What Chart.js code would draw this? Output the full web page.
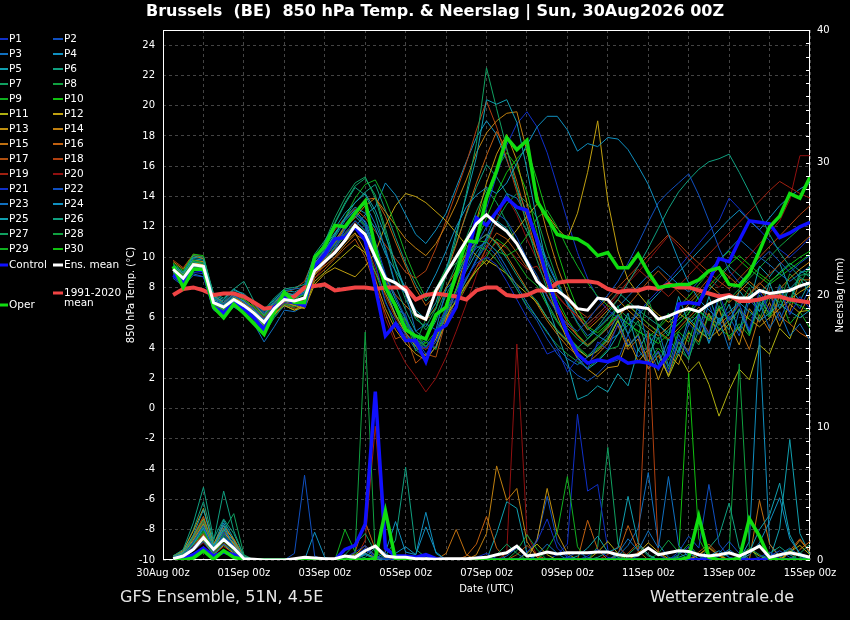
<!DOCTYPE html>
<html>
<head>
<meta charset="utf-8">
<title>Brussels 850 hPa Temp. &amp; Neerslag</title>
<script src="https://cdn.jsdelivr.net/npm/chart.js@4.4.1/dist/chart.umd.min.js"></script>
<style>
  html, body { margin: 0; padding: 0; background: #000; }
  #chart { display: block; }
</style>
</head>
<body>
<canvas id="chart" width="850" height="620"></canvas>
<script>
// GFS ensemble plume, Brussels - 850 hPa temperature (left axis) and 6h precipitation (right axis)

// Lead time in hours from 30Aug2026 00Z (one step every 6 h)
const leadHours = [6,12,18,24,30,36,42,48,54,60,66,72,78,84,90,96,102,108,114,120,126,132,138,144,150,156,162,168,174,180,186,192,
  198,204,210,216,222,228,234,240,246,252,258,264,270,276,282,288,294,300,306,312,318,324,330,336,342,348,354,360,366,372,378,384];

// x axis labels, one every 48 h
const dateLabels = ['30Aug 00z','01Sep 00z','03Sep 00z','05Sep 00z','07Sep 00z','09Sep 00z','11Sep 00z','13Sep 00z','15Sep 00z'];

const memberNames = ['P1','P2','P3','P4','P5','P6','P7','P8','P9','P10','P11','P12','P13','P14','P15',
  'P16','P17','P18','P19','P20','P21','P22','P23','P24','P25','P26','P27','P28','P29','P30'];
const memberColors = ['#1030c8','#1050c0','#1070c0','#1090c0','#10a0b0','#10a080','#10a060','#10a040','#10b020','#10c010',
  '#b0b010','#c0a010','#c09010','#c08010','#c07010','#c06010','#b05010','#b04010','#a02010','#901010',
  '#1030c8','#1050c0','#1070c0','#1090c0','#10a0b0','#10a080','#10a060','#10a040','#10b020','#10c010'];

// 850 hPa temperature (°C), perturbed members
const tempP1 = [8.8,8.3,9.0,8.9,6.8,6.4,7.0,6.6,6.0,5.4,6.4,7.0,6.9,7.1,9.3,10.0,10.8,11.6,12.4,11.8,9.6,
  7.0,5.8,4.9,4.2,4.0,5.1,6.6, 7.6,8.7,9.6,10.0,9.5,8.4,7.2,6.0, 4.9,3.6,3.9,2.4,3.3,2.6,4.4,3.9,
  5.6,4.2,4.8,2.9,3.8,2.4,4.6,3.5, 6.1,4.9,7.6,5.8,6.9,5.2,7.8,6.4, 8.1,6.2,7.4,6.6];
const tempP2 = [8.6,8.1,8.8,8.7,7.1,6.9,7.5,7.0,6.6,5.9,6.8,7.6,7.4,7.6,9.0,9.6,10.4,11.9,12.8,12.4,11.0,
  8.9,7.4,6.0,4.6,3.6,4.4,6.2, 7.6,9.2,10.8,12.0,12.9,12.4,11.3,9.9, 8.8,7.4,6.3,5.6,5.1,5.8,6.7,7.5,
  8.4,9.6,10.9,12.3,13.6,14.3,14.9,15.5, 14.1,12.4,10.6,9.1,8.3,9.0,9.8,10.4, 9.7,9.0,9.6,10.1];
const tempP3 = [9.0,8.5,9.2,9.1,7.3,7.0,7.6,7.3,6.9,6.3,7.0,7.8,7.9,8.0,9.8,10.5,11.3,12.4,13.1,13.5,12.2,
  10.6,8.2,7.6,5.1,5.6,5.2,7.9, 8.6,9.8,10.6,11.0,10.4,9.3,8.1,7.0, 6.0,5.1,4.0,3.3,2.9,3.4,4.2,4.9,
  6.2,4.9,6.8,4.1,5.3,2.8,4.9,3.6, 6.3,4.4,5.9,3.9,6.5,5.1,7.0,5.3, 6.4,4.8,5.6,4.5];
const tempP4 = [9.1,8.6,9.4,9.3,7.2,6.8,7.4,7.1,6.5,5.9,6.7,7.3,7.6,7.9,9.6,10.4,11.5,12.6,13.3,12.9,11.9,
  10.2,9.1,8.0,7.2,7.6,8.9,10.4, 12.0,13.3,14.1,14.6,14.2,14.9,16.2,17.4, 18.6,19.3,19.3,18.4,17.0,17.5,17.3,17.9,
  17.8,17.1,16.0,14.8,13.2,11.5,9.8,8.3, 7.2,6.5,5.9,6.4,7.0,6.4,5.8,6.3, 6.9,6.4,6.0,6.5];
const tempP5 = [9.4,8.9,9.9,9.8,7.4,7.1,7.8,7.6,6.9,6.2,7.1,7.7,7.5,7.8,9.9,10.8,11.9,12.9,13.6,14.2,13.1,
  11.4,9.6,7.8,6.5,5.9,7.0,9.1, 11.6,14.0,16.6,20.4,20.1,20.4,18.9,15.8, 12.4,9.3,6.8,4.8,3.4,2.6,3.1,3.8,
  4.9,6.3,3.8,5.1,2.9,4.6,3.7,6.0, 5.2,7.4,5.6,6.9,5.1,7.6,6.4,8.3, 6.6,8.0,7.1,8.4];
const tempP6 = [9.5,9.0,10.1,10.0,7.6,7.3,7.9,8.4,7.1,6.5,7.3,7.9,8.0,8.2,10.2,11.1,12.2,13.5,14.6,14.1,12.8,
  10.4,8.1,6.5,5.1,4.6,5.8,7.5, 8.8,10.0,11.0,11.5,10.9,9.9,8.8,7.8, 7.1,6.0,5.2,4.5,4.0,4.6,5.4,6.3,
  7.2,8.3,9.4,10.6,11.9,13.2,14.3,15.1, 15.8,16.3,16.5,16.8,15.6,14.3,12.9,11.5, 10.3,9.4,8.7,8.2];
const tempP7 = [9.2,8.7,9.7,9.6,7.0,6.5,7.1,6.7,6.2,5.5,6.5,7.4,7.2,7.6,9.7,11.0,12.6,13.9,14.9,15.3,13.9,
  11.6,9.0,7.2,5.9,5.4,6.6,8.8, 11.3,14.2,17.5,22.5,19.8,17.2,14.6,12.1, 9.8,7.9,6.4,5.3,4.6,4.1,4.7,5.4,
  6.8,4.9,5.8,3.6,4.7,2.6,4.4,3.2, 5.9,4.8,7.3,5.5,6.6,4.9,7.5,6.1, 8.0,6.9,8.8,8.9];
const tempP8 = [8.9,8.4,9.3,9.2,6.7,6.2,6.8,6.4,5.7,4.9,6.0,6.9,6.7,7.0,9.0,9.8,10.6,11.4,12.2,11.0,9.0,
  7.1,5.4,6.0,4.3,5.9,6.6,9.1, 9.6,10.2,10.7,10.5,9.8,8.9,7.9,6.8, 6.0,5.0,4.2,3.6,3.1,2.7,3.2,3.9,
  4.1,6.0,4.8,7.2,5.4,6.3,3.9,5.1, 4.2,6.2,5.5,7.6,6.8,8.0,5.9,7.5, 7.0,8.9,8.2,9.4];
const tempP9 = [9.3,8.8,9.8,9.6,6.9,6.5,7.3,6.8,6.4,5.8,6.6,7.1,7.0,7.4,9.4,10.3,11.4,12.6,13.9,14.8,15.1,
  13.8,12.1,10.2,8.6,7.3,7.9,9.2, 9.9,10.6,11.1,11.0,10.4,10.1,10.5,11.4, 12.6,13.1,12.0,10.6,9.4,8.3,7.4,6.8,
  6.3,6.9,6.2,5.6,5.0,4.5,5.1,5.8, 6.5,5.9,5.3,4.8,5.4,6.1,6.8,7.5, 7.6,7.1,6.8,6.4];
const tempP10 = [9.6,9.1,10.2,10.1,7.4,6.9,7.6,7.2,6.7,6.1,6.9,7.5,7.3,7.5,9.5,10.1,10.9,11.5,12.2,11.4,9.8,
  8.0,6.6,5.5,4.6,4.1,4.8,6.3, 7.9,9.5,11.0,12.6,14.2,15.6,16.5,17.2, 15.1,12.8,10.4,8.3,6.6,5.4,5.0,5.6,
  6.2,5.6,5.1,4.7,4.3,4.9,5.6,6.3, 7.4,8.1,8.8,9.5,10.1,9.5,8.9,8.4, 8.9,9.5,10.0,10.4];
const tempP11 = [9.0,8.5,9.4,9.3,7.0,6.6,7.3,6.9,6.2,5.4,6.2,6.8,6.5,6.7,8.4,9.0,9.6,10.2,10.8,10.3,9.0,
  7.6,6.2,5.0,4.1,3.5,4.6,6.1, 7.1,8.2,9.1,9.8,9.4,8.9,8.2,7.6, 7.0,6.0,5.1,4.4,3.9,3.4,3.8,4.5,
  5.8,4.1,4.9,2.9,3.8,2.1,3.6,2.4, 3.1,1.6,-0.5,1.2,2.6,1.9,4.2,3.6, 5.3,4.6,6.4,6.5];
const tempP12 = [9.2,8.7,9.6,9.5,7.2,6.8,7.3,7.0,6.4,5.8,6.6,7.1,6.8,6.6,8.2,8.9,9.3,9.0,8.7,9.4,10.3,
  12.1,13.4,14.2,14.0,13.6,13.0,12.4, 11.6,10.8,10.1,9.5,10.3,11.0,11.8,12.7, 13.5,12.8,11.9,11.2,12.9,15.6,19.0,13.7,
  10.4,8.5,7.6,6.8,6.2,5.7,6.3,5.8, 5.1,4.6,5.2,5.8,6.5,5.9,5.4,6.0, 6.6,7.2,7.7,8.1];
const tempP13 = [9.4,8.9,9.8,9.7,7.1,6.7,7.2,6.6,6.0,5.5,6.3,6.8,6.5,6.9,8.8,9.6,10.3,11.0,11.6,10.4,8.5,
  6.6,5.2,4.3,3.6,3.2,4.1,5.8, 7.9,10.1,12.4,14.9,16.8,18.1,16.4,13.6, 10.8,8.2,6.1,4.5,3.3,2.6,2.1,2.7,
  2.8,4.6,3.1,3.9,1.9,3.6,2.9,5.0, 4.4,6.3,4.8,5.6,4.2,6.6,5.7,7.0, 5.4,6.9,6.3,7.5];
const tempP14 = [9.7,9.2,10.1,9.9,7.5,7.0,7.6,7.4,6.8,6.2,7.0,7.6,7.5,7.8,9.6,10.4,11.1,12.0,12.6,13.4,13.9,
  13.0,12.1,11.2,10.6,10.1,10.9,12.1, 13.5,15.1,16.9,18.2,19.0,19.5,19.6,17.0, 14.2,11.6,9.4,7.6,6.2,5.2,5.8,6.5,
  7.2,6.5,5.9,5.3,4.8,5.4,6.1,6.9, 7.6,8.2,7.6,7.0,7.7,8.4,7.8,7.2, 7.9,8.6,9.2,9.7];
const tempP15 = [9.1,8.6,9.5,9.3,6.9,6.5,7.1,6.8,6.2,5.6,6.4,7.0,6.8,7.1,8.9,9.4,10.0,10.8,11.5,11.1,9.9,
  8.6,7.5,6.8,6.1,5.8,6.7,8.0, 9.1,10.2,11.0,11.5,11.0,10.1,9.0,7.9, 6.9,5.8,4.9,4.1,3.5,3.0,3.6,4.3,
  5.5,3.9,4.6,2.6,3.5,2.2,4.4,3.8, 6.1,5.0,6.6,4.5,5.4,3.9,6.2,5.1, 7.6,6.4,8.5,8.5];
const tempP16 = [9.3,8.8,9.6,9.5,7.2,6.8,7.4,7.0,6.5,5.9,6.7,7.3,7.1,7.2,9.1,9.9,10.9,11.9,13.0,13.8,13.9,
  12.7,11.0,9.4,7.9,6.8,7.5,8.9, 10.8,12.9,14.9,16.7,18.3,17.1,15.0,12.6, 10.3,8.4,6.9,5.7,4.8,4.1,4.7,5.4,
  6.1,6.8,6.2,5.6,5.1,4.6,5.3,6.0, 6.7,6.1,5.5,6.2,6.9,7.6,8.3,7.7, 6.1,5.6,5.0,4.6];
const tempP17 = [9.0,8.5,9.3,9.2,6.8,6.4,7.0,6.6,6.1,5.5,6.3,6.9,6.6,6.8,8.6,9.2,9.9,10.6,11.2,10.0,8.1,
  6.3,4.6,4.9,3.0,3.6,3.4,5.9, 6.8,8.0,9.3,10.6,11.6,11.2,10.3,9.3, 8.7,7.5,6.4,5.5,4.8,4.2,4.7,5.3,
  6.0,6.8,7.6,8.4,9.1,8.4,7.7,7.1, 7.8,8.6,9.3,8.7,8.1,7.5,8.2,8.9, 9.5,10.2,10.8,11.4];
const tempP18 = [9.8,9.3,10.2,10.0,7.4,7.0,7.5,7.2,6.6,6.0,6.8,7.6,7.9,8.4,10.0,10.9,11.8,12.6,13.2,12.6,11.7,
  10.8,9.9,9.0,8.6,9.1,10.6,12.4, 14.3,16.2,18.4,20.3,18.6,16.5,14.3,12.2, 10.3,8.9,7.9,7.1,6.5,6.0,6.6,7.3,
  8.0,8.7,9.4,10.1,10.8,11.5,10.9,10.2, 9.6,9.0,8.4,7.9,8.6,9.3,10.0,10.7, 11.4,12.1,12.8,13.4];
const tempP19 = [9.1,8.6,9.5,9.4,7.1,6.7,7.2,6.8,6.3,5.7,6.5,7.1,6.9,7.2,8.9,9.7,10.6,11.5,12.2,11.0,9.3,
  7.4,6.0,5.0,4.3,3.9,4.7,6.0, 7.1,8.2,9.3,10.2,11.0,10.6,9.9,9.2, 9.4,8.3,7.4,6.7,6.1,5.6,6.2,6.9,
  7.6,8.4,9.2,8.6,8.0,7.4,8.1,8.8, 9.5,10.2,10.9,11.6,12.3,13.0,13.7,14.4, 15.0,14.6,14.2,13.9];
const tempP20 = [8.9,8.4,9.2,9.1,6.9,6.5,7.1,6.7,6.1,5.3,6.2,6.9,6.7,6.9,8.6,9.5,10.5,11.6,12.3,11.3,8.7,
  5.9,4.3,3.0,2.1,1.1,2.0,3.4, 5.1,6.9,8.8,10.7,12.5,14.0,12.8,11.2, 9.8,8.6,7.5,6.7,6.0,5.4,6.0,6.7,
  7.5,8.3,9.0,9.8,10.6,11.4,10.7,9.9, 9.2,8.6,8.0,8.7,9.4,10.1,10.9,11.6, 12.4,13.8,16.7,16.7];
const tempP21 = [9.2,8.7,9.5,9.3,7.0,6.6,7.3,6.9,6.4,5.8,6.6,7.3,7.1,7.4,9.2,9.9,10.6,11.4,12.1,11.6,10.0,
  8.4,6.9,5.6,4.6,4.0,4.8,6.4, 7.9,9.6,11.4,13.2,15.4,17.4,18.8,19.6, 18.6,16.9,14.7,12.4,10.3,8.6,7.3,6.5,
  6.0,5.6,6.3,7.1,7.8,8.5,9.3,10.1, 10.9,11.7,12.4,13.9,13.2,12.5,11.8,11.1, 10.5,10.0,10.6,11.3];
const tempP22 = [9.0,8.5,9.3,9.2,6.9,6.5,7.0,6.6,6.0,5.1,6.0,6.8,6.7,7.1,9.1,10.0,11.0,12.1,12.9,12.2,10.5,
  8.7,6.6,6.2,4.1,4.5,4.0,6.6, 7.2,8.6,9.8,10.8,10.1,9.0,7.9,6.7, 5.8,4.6,3.6,2.8,2.2,1.8,2.3,3.0,
  3.2,4.9,3.4,4.1,2.5,4.2,3.5,5.6, 4.9,6.9,5.1,6.1,4.8,7.2,6.4,7.6, 5.8,7.4,6.6,8.0];
const tempP23 = [8.7,8.2,8.9,8.7,6.5,6.1,6.7,6.3,5.6,4.4,5.4,6.5,6.4,6.8,8.8,9.7,10.7,11.8,12.7,12.0,10.1,
  7.9,6.2,4.9,3.9,3.3,4.1,5.7, 7.2,8.5,9.9,11.3,13.0,14.2,13.9,12.7, 11.4,9.8,8.3,6.9,5.7,4.8,5.3,6.0,
  6.7,7.4,8.1,8.8,9.4,8.8,8.2,7.7, 8.4,9.1,9.8,10.5,11.2,10.6,10.0,9.5, 8.9,8.4,8.9,9.4];
const tempP24 = [9.3,8.8,9.7,9.5,7.3,6.9,7.6,7.2,6.7,6.1,6.9,7.6,7.4,7.7,9.5,10.2,10.9,11.6,12.0,12.8,13.3,
  14.9,14.1,12.8,11.5,10.9,11.8,12.9, 14.6,16.3,17.9,19.0,18.1,16.4,14.6,12.9, 11.2,9.6,8.2,7.0,6.0,5.3,4.8,4.4,
  4.9,5.5,6.2,6.9,7.6,8.3,9.0,9.7, 10.4,11.1,11.8,12.5,13.1,12.4,11.8,12.6, 13.4,14.0,14.5,14.9];
const tempP25 = [9.5,9.0,10.0,9.9,7.5,7.2,7.9,7.5,7.0,6.4,7.2,7.8,7.7,8.0,9.9,10.7,11.6,12.5,13.1,12.3,10.6,
  8.8,7.2,5.9,4.8,4.1,4.9,6.5, 7.8,9.1,10.3,11.2,12.4,11.9,10.9,9.6, 8.6,6.9,5.0,3.1,0.6,0.9,1.5,1.1,
  2.3,1.5,3.9,3.0,5.6,4.8,7.4,5.6, 6.2,4.3,6.0,5.2,7.8,6.9,9.4,8.7, 9.6,7.9,8.6,7.6];
const tempP26 = [9.2,8.7,9.6,9.5,7.1,6.8,7.4,7.1,6.6,6.0,6.8,7.5,7.4,7.7,9.6,10.5,11.5,12.6,13.6,14.3,14.8,
  13.1,11.3,9.6,8.2,7.1,7.9,9.3, 10.9,12.8,14.6,16.1,15.3,14.2,13.0,11.7, 10.4,9.1,8.0,7.0,6.2,5.6,6.2,6.9,
  7.7,7.1,6.5,6.0,5.5,5.0,5.6,6.3, 7.0,7.8,8.6,9.4,8.8,8.2,7.6,8.3, 9.0,9.6,9.1,8.7];
const tempP27 = [9.4,8.9,9.8,9.7,7.3,6.9,7.5,7.1,6.5,5.9,6.7,7.4,7.3,7.6,9.8,11.0,12.3,13.6,14.7,15.2,14.1,
  11.9,9.5,7.6,6.1,5.2,6.1,7.9, 9.5,11.3,13.0,14.5,13.6,12.3,10.9,9.5, 8.4,7.0,5.8,4.8,4.0,3.4,3.9,4.6,
  5.9,4.1,4.8,2.9,3.7,2.2,3.9,3.3, 5.2,4.6,6.8,5.9,6.9,5.0,7.1,6.3, 8.2,7.1,9.0,9.1];
const tempP28 = [9.1,8.6,9.4,9.3,6.9,6.3,6.9,6.5,5.8,5.0,6.1,7.0,6.8,7.1,9.1,10.0,11.0,12.1,13.0,12.1,10.2,
  8.1,6.6,5.4,4.5,3.9,4.6,6.0, 7.2,8.5,9.8,11.0,12.4,13.5,14.2,13.6, 12.6,10.4,8.5,6.9,5.6,4.6,5.2,5.9,
  6.6,6.0,5.5,5.0,4.6,5.2,5.9,6.5, 6.4,5.9,6.5,7.2,7.9,8.6,9.3,10.0, 10.7,11.3,11.9,12.4];
const tempP29 = [9.0,8.5,9.3,9.2,6.8,6.4,7.0,6.6,6.0,5.3,6.2,6.9,6.8,7.1,9.0,9.8,10.7,11.6,12.4,11.7,10.1,
  8.2,6.0,5.9,3.8,4.4,3.9,6.4, 7.0,8.1,9.1,10.0,11.2,10.7,9.7,8.7, 8.1,6.8,5.7,4.8,4.1,3.5,4.0,4.7,
  5.8,4.2,4.9,3.1,4.0,3.2,5.1,4.4, 6.5,5.8,6.7,4.6,5.6,4.8,6.9,6.0, 7.4,5.6,6.4,5.3];
const tempP30 = [9.3,8.8,9.7,9.6,7.1,6.6,7.2,6.8,6.3,5.6,6.5,7.2,7.0,7.3,9.3,10.1,11.0,11.9,12.7,12.1,10.4,
  8.4,6.9,5.7,4.8,4.3,5.1,6.7, 8.5,10.4,12.3,14.2,15.8,16.9,16.0,14.3, 11.6,9.0,7.2,5.9,4.9,4.2,4.8,5.5,
  6.2,5.6,5.1,4.7,5.3,6.0,6.7,7.4, 8.2,9.0,9.8,10.4,9.8,9.2,8.7,8.2, 8.7,9.2,9.7,10.2];

// 850 hPa temperature (°C), control, operational run, ensemble mean, 1991-2020 climate mean
const tempControl = [8.8,8.4,9.2,9.1,6.7,6.3,7.0,6.6,6.0,5.2,6.7,7.3,7.0,6.8,9.4,10.2,11.2,11.3,12.0,11.1,8.0,
  4.8,5.6,4.5,4.5,3.1,5.1,5.5, 6.7,9.7,12.6,12.1,13.0,13.9,13.3,13.1, 11.1,8.6,6.7,4.9,3.6,3.0,3.2,3.1,
  3.4,3.0,3.1,3.0,2.7,3.6,6.9,7.0, 6.9,8.4,9.9,9.7,11.1,12.4,12.3,12.2, 11.3,11.6,12.0,12.3];
const tempOper = [9.4,8.0,9.2,9.2,6.7,6.0,6.9,6.3,5.6,4.9,6.4,7.7,7.0,7.0,10.0,10.7,12.1,12.0,12.9,13.7,10.6,
  8.0,6.8,5.2,4.8,4.6,6.2,6.7, 8.9,11.1,11.0,13.9,15.7,17.9,17.1,17.7, 13.7,12.6,11.5,11.3,11.2,10.8,10.1,10.3,
  9.3,9.3,10.2,9.0,8.0,8.1,8.2,8.2, 8.5,9.1,9.3,8.2,8.1,8.9,10.4,12.0, 12.7,14.2,13.9,15.3];
const tempMean = [9.2,8.6,9.5,9.4,7.0,6.7,7.2,6.8,6.3,5.7,6.6,7.2,7.1,7.3,9.1,9.7,10.3,11.1,12.1,11.5,10.0,
  8.6,8.3,7.8,6.2,5.9,7.8,8.9, 10.0,11.1,12.2,12.8,12.2,11.7,10.9,9.7, 8.4,7.8,7.8,7.3,6.6,6.5,7.3,7.2,
  6.4,6.7,6.7,6.6,5.9,6.1,6.4,6.6, 6.4,6.9,7.2,7.4,7.3,7.3,7.8,7.6, 7.7,7.8,8.1,8.3];
const tempClimate = [7.5,7.9,8.0,7.8,7.5,7.6,7.6,7.4,7.0,6.6,6.7,7.2,7.4,8.0,8.1,8.2,7.8,7.9,8.0,8.0,7.9,
  8.0,8.0,8.0,7.2,7.5,7.6,7.5, 7.4,7.2,7.8,8.0,8.0,7.5,7.4,7.5, 7.8,7.8,8.3,8.4,8.4,8.4,8.3,7.9,
  7.7,7.8,7.8,8.0,7.9,8.2,8.0,8.0, 7.8,7.6,7.4,7.5,7.1,7.1,7.2,7.4, 7.4,7.2,7.1,7.0];

// 6-hourly precipitation (mm), perturbed members
const rainP1 = [0.1,0.3,1.0,1.8,0.6,2.1,0.8,0.1, 0,0,0,0,0,0,0,0, 0,0.2,0.6,1.1,0.3,0.1,0,0, 0,0,0,0,0,0,0.2,0.5,
  0.1,0,0,0.6,1.4,3.1,0.9,0.2, 0,0.3,0.8,0.2,0,0,0,0, 0,0,0.4,1.0,0.3,0,0,0, 0,0,0.2,0.6,0.1,0,0,0];
const rainP2 = [0.2,0.4,1.4,2.6,0.8,1.7,1.1,0.2, 0,0,0,0,0.5,6.4,0.3,0, 0,0,0.3,0.8,0.2,0,0.4,0.1, 0,0,0,0,0,0,0,0,
  0,0.3,0.9,0.4,0,0,0,0.2, 0.6,0.2,0,0,0,0,0.3,0.9, 0.4,0,0.6,1.8,0.9,5.7,1.2,0.2, 0,0,0,0.3,0.7,0.2,0,0];
const rainP3 = [0,0.2,0.7,1.4,0.4,1.2,0.6,0, 0,0,0,0,0,0,0,0, 0,0,0,0.4,1.1,0.5,0,0, 0,0,0,0,0,0,0,0,
  0,0,0,0,0.4,1.2,0.5,0, 0,0,0,0,0.5,1.6,0.7,2.2, 0.9,6.3,1.1,0.2,0,0,0.3,0.8, 0.2,0,0,0,0.4,0.9,0.3,0];
const rainP4 = [0.1,0.3,1.2,2.4,0.9,2.6,1.0,0.2, 0,0,0,0,0,0,2.1,0.2, 0,0.3,0.2,0.5,0.1,0.6,2.9,0.6, 0.4,2.5,0.6,0,0,0,0,0,
  0,0,0,0,0,0,0,0, 0,0,0,0,0,0,0,0, 0,0,0,0,0,0.3,0.7,0.2, 0,0.4,1.3,2.9,4.7,1.6,0.5,0.2];
const rainP5 = [0.2,0.6,1.9,3.8,1.1,2.3,1.4,0.2, 0,0,0,0,0,0,0,0, 0,0,0.2,0.4,0.1,0,0,0, 0,0,0,0,0,0,0,0,
  0,0,0,0,0,0,0,0, 0.3,0.9,1.8,0.6,0.9,4.8,1.3,0.4, 0,0,0.2,0.5,0.1,0,0,0, 0,0.6,2.3,3.4,5.8,1.9,0.4,0.1];
const rainP6 = [0.3,0.8,2.8,5.5,1.6,3.1,2.0,0.3, 0,0,0,0,0,0,0,0, 0,0,0,0.2,0.9,0.3,1.5,7.0, 0.8,0.2,0,0,0,0,0,0,
  0,0,0,0,0,0,0,0, 0,0,0.2,0.6,0.2,0,0,0, 0,0,0,0,0,0,0,0, 0,0,0,0.5,1.0,0.4,0,0];
const rainP7 = [0.2,0.5,1.7,3.0,1.0,2.2,3.5,0.4, 0,0,0,0,0,0,0,0, 0,0.4,1.2,2.0,0.6,0.1,0,0, 0,0,0,0,0,0,0,0,
  0.4,1.2,0.5,0,0,0,0,0, 0,0,0,0,0,0.4,1.1,0.3, 0,0,0,0,0,0,0,0, 0.3,0.9,0.4,0,0,0,0.5,1.2];
const rainP8 = [0.1,0.4,1.3,2.4,0.8,1.8,0.8,0.1, 0,0,0,0,0,0,0,0, 0,0,0.5,17.2,0.4,0,0,0, 0,0,0,0,0,0,0,0,
  0,0,0.7,1.9,0.8,0,0,0, 0,0,0,0,0,0,0,0, 0.5,1.5,0.6,0,0,0,0,0, 0,0,0,0,0.3,0.8,0.2,0];
const rainP9 = [0.1,0.3,0.9,1.6,0.5,1.4,0.7,0.1, 0,0,0,0,0,0,0,0, 0,2.3,0.6,0.1,0,0,0,0, 0,0,0,0,0,0,0,0,
  0,0,0,0,0,0.8,2.1,6.3, 1.0,0,0,0,0,0,0,0, 0,0,0.4,1.2,0.3,0,0,0, 0,0,0,0,0,0,0,0];
const rainP10 = [0.2,0.4,1.2,2.2,0.8,2.0,1.0,0.2, 0,0,0,0,0,0,0,0, 0,0,0,0,0,0,0,0, 0,0,0,0,0,0,0,0,
  0,0,0,0,0,0,0,0, 0,0,0,0,0,0,0,0, 0,0,0.3,14.1,1.6,0.2,0,0, 0,0,0,0,0,0,0,0];
const rainP11 = [0.1,0.2,0.8,1.5,0.4,1.1,0.5,0, 0,0,0,0,0,0,0,0, 0,0,0,0.5,0.2,0,0,0, 0,0,0,0,0,0,0,0,
  0,0,0,0.5,1.2,0.4,0,0, 0,0,0.6,1.4,0.5,0,0,0, 0,0,0,0,0,0,0,0, 0.2,0.8,0.3,0,0,0.6,1.1,0.4];
const rainP12 = [0.2,0.5,1.5,2.7,0.9,2.1,1.2,0.2, 0,0,0,0,0,0,0,0, 0,0,0,0,0,0,0,0, 0,0,0,0,0,0,0,0,
  0,0,0,0,0,0,0,0, 0,0,0,0,0,0,0.5,1.3, 0.6,0.1,0,0,0,0,0,0, 0,0,0,0,0,0,0,0];
const rainP13 = [0.3,0.7,2.2,3.9,1.2,2.6,1.5,0.2, 0,0,0,0,0,0,0,0, 0,0,0.4,1.1,0.3,0,0,0, 0,0,0,0,0,0,0,0,
  0,0,0,0,1.5,5.4,2.0,0.5, 0,0,0,0,0,0,0,0, 0,0,0,0,0.4,1.0,0.3,0, 0,0,0,0,0,0,0,0];
const rainP14 = [0.2,0.5,1.7,3.1,1.0,2.0,1.3,0.2, 0,0,0,0,0,0,0,0, 0,0,0,0,0,0,0,0, 0,0,0,0,0,0,0.4,2.0,
  7.1,4.5,5.4,1.4,0.2,0,0,0, 0,0,0,0,0,0,0,0, 0,0,0,0,0,0,0,0, 0,0,0,0,0,0.5,1.5,0.6];
const rainP15 = [0.1,0.3,1.0,1.9,0.6,1.5,0.7,0.1, 0,0,0,0,0,0,0,0, 0,0,0,0,0,0,0,0, 0,0,0,0.5,2.3,0.4,0,0,
  0,0,0,0,0,0,0,0, 0,0,0,0,0,0,0,0, 0,0,0,0,0.4,0.9,0.3,0, 0,0,4.5,1.2,0.2,0,0,0];
const rainP16 = [0.2,0.6,1.8,3.3,1.0,2.4,1.6,0.3, 0,0,0,0,0,0,0,0, 0,0,0.6,2.9,0.8,0.2,0,0, 0,0,0,0,0,0.3,1.2,3.3,
  0.9,0,0,0,0,0,0,0, 0,3.0,0.8,0,0.4,2.6,0.7,0, 0,0,0,0,0,0,0,0, 0,0.4,1.1,0.3,0,0,0.8,1.4];
const rainP17 = [0.1,0.4,1.1,2.0,0.7,1.6,0.9,0.1, 0,0,0,0,0,0,0,0, 0,0,0,0,0,0,0,0, 0,0,0,0,0,0,0,0,
  0,0,0.4,1.1,0.4,0,0,0, 0,0,0,0,0,0.5,1.3,0.4, 0,0,0,0,0.6,1.2,0.4,0, 0,0,0,0,0,0.7,1.6,0.6];
const rainP18 = [0.2,0.6,1.6,2.9,1.0,2.3,1.2,0.2, 0,0,0,0,0,0,0,0, 0,0,0,0,0,0,0,0, 0,0,0,0,0,0,0,0,
  0,0,0,0,0,0,0,0, 0,0,0,0,0,0,0.6,17.3, 0.5,0,0,0,0,0,0,0, 0,0,0,0,0,0,0,0];
const rainP19 = [0.1,0.3,0.9,1.7,0.5,1.3,0.6,0.1, 0,0,0,0,0,0,0,0, 0,0,0,1.5,10.1,0.4,0,0, 0,0,0,0,0,0,0,0,
  0,0,0,0,0,0,0,0, 0,0,0,0.4,1.0,0.3,0,0, 0,0,0,0,0,0,0,0, 0,0,0,0,0,0,0,0];
const rainP20 = [0.1,0.2,0.7,1.3,0.4,1.0,0.5,0, 0,0,0,0,0,0,0,0, 0,0,0,0,0,0,0,0, 0,0,0,0,0,0,0,0,
  0,0.5,16.3,2.0,0.3,0,0,0, 0,0,0,0,0,0,0,0, 0,0,0,0,0,0,0,0, 0,0,0,0,0,0,0,0];
const rainP21 = [0.2,0.4,1.3,2.3,0.8,1.9,1.1,0.1, 0,0,0,0,0,0,0,0, 0,0,0.3,0.9,0.3,0,0,0, 0,0,0,0,0,0,0,0,
  0,0,0,0,0,0,0.4,1.2, 11.0,5.2,5.7,0.8,0,0,0,0, 0,0,0,0,0,0,0,0, 0,0,0,0,0,0,0,0];
const rainP22 = [0.1,0.3,1.0,1.8,0.6,1.5,0.8,0.1, 0,0,0,0,0,0,0,0, 0,0,0,0,0,0,0,0, 0,0,0,0,0,0,0,0,
  0,0,0,0,1.6,4.8,1.4,0.3, 0,0,0,0,0,0,0,0, 0,0,0,0,0,0,0.5,1.4, 0.5,0,0,0,0,0,0,0];
const rainP23 = [0,0.2,0.8,1.6,0.5,1.2,0.6,0, 0,0,0,0,0,0,0,0, 0,0,0,0,0,0,0,0, 0,0,0,0,0,0,0,0,
  0,0,0,0,0,0,0,0, 0,0,0,0,0.3,1.1,2.4,6.6, 1.2,0.2,0,0,0,0,0,0, 0,0,0,0,0,0,0,0];
const rainP24 = [0.2,0.5,1.4,2.6,0.9,2.8,1.4,0.2, 0,0,0,0,0,0,0,0, 0,0,0,0,0,0,0.5,1.0, 0.4,3.6,0.5,0,0,0,0,0,
  0,0,0,0,0,0,0,0, 0,0,0,0,0,0,0,0, 0,0,0,0,0,0,0,0, 0,1.4,16.9,1.2,0.3,0,0,0];
const rainP25 = [0.2,0.6,1.8,3.1,1.1,3.0,1.6,0.2, 0,0,0,0,0,0,0,0, 0,0,0,0,0,0,0,0, 0,0,0,0,0,0,0,0,
  2.0,4.4,3.9,0.5,0,0,0,0, 0,0,0,0,0,0,0,0, 0,0,0,0,0,0,0,0, 0,0,0,0,2.4,9.1,2.0,0.4];
const rainP26 = [0.3,0.7,2.3,4.4,1.4,5.2,2.2,0.3, 0,0,0,0,0,0,0,0, 0,0,0,0,0,0,0,0, 0,0,0,0,0,0,0,0,
  0,0,0,0,0,0,0,0, 0,0,0,0,0,0,0,0, 0,0,0,0,0,0.9,1.8,4.3, 0.9,0,0,0,0,0,0,0];
const rainP27 = [0.2,0.5,1.5,2.8,0.9,2.2,1.2,0.2, 0,0,0,0,0,0,0,0, 0,0,0,0,0,0,0,0, 0,0,0,0,0,0,0,0,
  0,0,0,0,0,0,0,0, 0,0,1.0,8.5,1.2,0,0,0, 0,0,0,0,0,0,0,0, 0,0,0,0,0,0,0,0];
const rainP28 = [0.1,0.4,1.2,2.1,0.7,1.7,0.9,0.1, 0,0,0,0,0,0,0,0, 0,0,0,0,0,0,0,0, 0,0,0,0,0,0,0,0,
  0,0,0,0,0,0,0,0, 0,0,0,0,0,0,0,0, 0,0,0,0,0,0,0,0.6, 14.8,1.0,0,0,0,0,0,0];
const rainP29 = [0.1,0.3,1.0,1.9,0.6,1.6,0.8,0.1, 0,0,0,0,0,0,0,0, 0,0,0,0,0,0,0,0, 0,0,0,0,0,0,0,0,
  0,0,0,0,0,0,0,0, 0,0,0,0,0,0,0,0, 0,0,0,0,0,0,0,0, 0,0,0,0,0,0,0,0];
const rainP30 = [0.2,0.4,1.3,2.5,0.8,1.9,1.0,0.2, 0,0,0,0,0,0,0,0, 0,0,0,0,0,0,0,0, 0,0,0,0,0,0,0,0,
  0,0,0,0,0,0,0,0, 0,0,0,0,0,0,0,0, 0,0,0,0,0,0,0,0, 0,0,0,0,0,0,0,0];

// 6-hourly precipitation (mm), control, operational run, ensemble mean
const rainControl = [0,0.1,0.4,0.9,0.3,0.6,0.4,0, 0,0,0,0,0,0,0,0, 0,0.8,1.1,2.7,12.7,0.9,0.3,0.3, 0.2,0.4,0.1,0,0,0,0,0,
  0,0,0,0,0,0,0,0, 0,0,0,0,0,0,0,0, 0,0,0,0,0,0,0,0, 0,0,0,0,0,0,0,0];
const rainOper = [0,0,0.15,0.7,0.05,0.7,0.2,0.05, 0,0,0,0,0,0,0,0, 0,0,0,0,0.1,3.7,0,0, 0,0,0,0,0,0,0,0,
  0,0,0,0,0,0,0,0, 0,0,0,0,0,0,0,0, 0,0,0,0.2,3.3,0.2,0,0, 0.1,3.1,1.8,0.1,0,0,0,0];
const rainMean = [0.1,0.3,0.8,1.7,0.8,1.55,0.9,0.1, 0.05,0,0,0,0.1,0.2,0.15,0.1, 0.1,0.3,0.2,0.7,1.05,0.3,0.2,0.2,
  0.1,0.1,0.05,0.1,0.1,0.1,0.15,0.2, 0.4,0.55,1.05,0.3,0.4,0.6,0.45,0.55, 0.55,0.55,0.6,0.6,0.4,0.3,0.4,0.9,
  0.4,0.55,0.7,0.65,0.4,0.3,0.4,0.55, 0.3,0.65,1.05,0.2,0.4,0.55,0.4,0.2];

const memberTemps = [tempP1,tempP2,tempP3,tempP4,tempP5,tempP6,tempP7,tempP8,tempP9,tempP10,
  tempP11,tempP12,tempP13,tempP14,tempP15,tempP16,tempP17,tempP18,tempP19,tempP20,
  tempP21,tempP22,tempP23,tempP24,tempP25,tempP26,tempP27,tempP28,tempP29,tempP30];
const memberRains = [rainP1,rainP2,rainP3,rainP4,rainP5,rainP6,rainP7,rainP8,rainP9,rainP10,
  rainP11,rainP12,rainP13,rainP14,rainP15,rainP16,rainP17,rainP18,rainP19,rainP20,
  rainP21,rainP22,rainP23,rainP24,rainP25,rainP26,rainP27,rainP28,rainP29,rainP30];

const chartTitle = 'Brussels  (BE)  850 hPa Temp. & Neerslag | Sun, 30Aug2026 00Z';

const COLOR_CONTROL = '#1010ff';
const COLOR_OPER = '#10dd10';
const COLOR_MEAN = '#ffffff';
const COLOR_CLIMATE = '#f04444';
const FONT = '"DejaVu Sans", sans-serif';

// pair the 6-hourly values with their lead time
function series(values) {
  return values.map((v, i) => ({ x: leadHours[i], y: v }));
}

function lineSet(label, values, color, width, axis, order) {
  return {
    label: label,
    data: series(values),
    borderColor: color,
    borderWidth: width,
    yAxisID: axis,
    order: order,
    pointRadius: 0,
    tension: 0,
    fill: false
  };
}

const datasets = [];
memberTemps.forEach((values, i) => {
  datasets.push(lineSet(memberNames[i], values, memberColors[i], 1, 'y', 6));
});
memberRains.forEach((values, i) => {
  datasets.push(lineSet(memberNames[i] + ' rain', values, memberColors[i], 1, 'y2', 5));
});
datasets.push(lineSet('1991-2020 mean', tempClimate, COLOR_CLIMATE, 4, 'y', 4));
datasets.push(lineSet('Control', tempControl, COLOR_CONTROL, 3.5, 'y', 3));
datasets.push(lineSet('Control rain', rainControl, COLOR_CONTROL, 3.5, 'y2', 3));
datasets.push(lineSet('Oper', tempOper, COLOR_OPER, 3.5, 'y', 2));
datasets.push(lineSet('Oper rain', rainOper, COLOR_OPER, 3.5, 'y2', 2));
datasets.push(lineSet('Ens. mean', tempMean, COLOR_MEAN, 3, 'y', 1));
datasets.push(lineSet('Ens. mean rain', rainMean, COLOR_MEAN, 3, 'y2', 1));

// frame, titles, footer texts and the two-column legend on the left
const decorPlugin = {
  id: 'decor',
  beforeDraw(chart) {
    const ctx = chart.ctx;
    ctx.save();
    ctx.fillStyle = '#000';
    ctx.fillRect(0, 0, chart.width, chart.height);
    ctx.restore();
  },
  beforeDatasetsDraw(chart) {
    const { ctx, chartArea: a } = chart;
    ctx.save();
    ctx.strokeStyle = '#ffffff';
    ctx.lineWidth = 1;
    ctx.strokeRect(a.left + 0.5, a.top + 0.5, a.right - a.left - 1, a.bottom - a.top - 1);
    ctx.restore();
  },
  afterDraw(chart) {
    const { ctx, chartArea: a } = chart;
    const y2 = chart.scales.y2;
    const midY = (a.top + a.bottom) / 2;
    ctx.save();

    // minor ticks of the precipitation axis, every mm
    ctx.strokeStyle = '#ffffff';
    ctx.lineWidth = 1;
    for (let mm = y2.min; mm <= y2.max; mm += 1) {
      const py = Math.round(y2.getPixelForValue(mm)) + 0.5;
      ctx.beginPath();
      ctx.moveTo(a.right - 4, py);
      ctx.lineTo(a.right, py);
      ctx.stroke();
    }

    ctx.fillStyle = '#ffffff';
    ctx.textBaseline = 'middle';

    // title
    ctx.font = 'bold 16px ' + FONT;
    ctx.textAlign = 'center';
    ctx.fillText(chartTitle, 435, 12);

    // axis titles
    ctx.font = '10px ' + FONT;
    ctx.fillText('Date (UTC)', (a.left + a.right) / 2, 589);
    ctx.save();
    ctx.translate(131, midY);
    ctx.rotate(-Math.PI / 2);
    ctx.fillText('850 hPa Temp. (°C)', 0, 0);
    ctx.restore();
    ctx.save();
    ctx.translate(840, midY);
    ctx.rotate(-Math.PI / 2);
    ctx.fillText('Neerslag (mm)', 0, 0);
    ctx.restore();

    // footer
    ctx.fillStyle = '#e6e6e6';
    ctx.font = '16px ' + FONT;
    ctx.textAlign = 'left';
    ctx.fillText('GFS Ensemble, 51N, 4.5E', 120, 598);
    ctx.fillText('Wetterzentrale.de', 650, 598);

    // legend
    const colX = [-2, 53];
    const legendItem = (x, y, color, width, text) => {
      ctx.strokeStyle = color;
      ctx.lineWidth = width;
      ctx.beginPath();
      ctx.moveTo(x, y);
      ctx.lineTo(x + 10, y);
      ctx.stroke();
      ctx.fillStyle = '#ffffff';
      ctx.fillText(text, x + 11, y);
    };
    ctx.font = '10.5px ' + FONT;
    memberNames.forEach((name, i) => {
      legendItem(colX[i % 2], 39 + Math.floor(i / 2) * 15, memberColors[i], 2, name);
    });
    legendItem(colX[0], 265, COLOR_CONTROL, 3, 'Control');
    legendItem(colX[1], 265, COLOR_MEAN, 3, 'Ens. mean');
    legendItem(colX[1], 293, COLOR_CLIMATE, 3, '1991-2020');
    ctx.fillText('mean', colX[1] + 11, 303);
    legendItem(colX[0], 305, COLOR_OPER, 3, 'Oper');

    ctx.restore();
  }
};

Chart.defaults.font.family = FONT;
Chart.defaults.font.size = 10;
Chart.defaults.color = '#ffffff';

new Chart(document.getElementById('chart'), {
  type: 'line',
  data: { datasets: datasets },
  options: {
    responsive: false,
    animation: false,
    devicePixelRatio: 1,
    layout: { padding: { left: 120, right: 0, top: 30, bottom: 20 } },
    plugins: {
      legend: { display: false },
      tooltip: { enabled: false }
    },
    scales: {
      x: {
        type: 'linear',
        min: 0,
        max: 384,
        afterFit(scale) { scale.height = 40; },
        ticks: {
          stepSize: 24,
          autoSkip: false,
          maxRotation: 0,
          padding: 7,
          color: '#ffffff',
          callback: (value) => (value % 48 === 0 ? dateLabels[value / 48] : '')
        },
        grid: { color: '#444444', lineWidth: 1, drawTicks: false },
        border: { display: false, dash: [3, 3] }
      },
      y: {
        position: 'left',
        min: -10,
        max: 25,
        afterFit(scale) { scale.width = 43; },
        ticks: { stepSize: 2, includeBounds: false, autoSkip: false, padding: 8, color: '#ffffff' },
        grid: { color: '#444444', lineWidth: 1, drawTicks: false },
        border: { display: false, dash: [3, 3] }
      },
      y2: {
        position: 'right',
        min: 0,
        max: 40,
        afterFit(scale) { scale.width = 40; },
        ticks: { stepSize: 10, autoSkip: false, padding: 7, color: '#ffffff' },
        grid: { display: false, drawTicks: false },
        border: { display: false }
      }
    }
  },
  plugins: [decorPlugin]
});
</script>
</body>
</html>
